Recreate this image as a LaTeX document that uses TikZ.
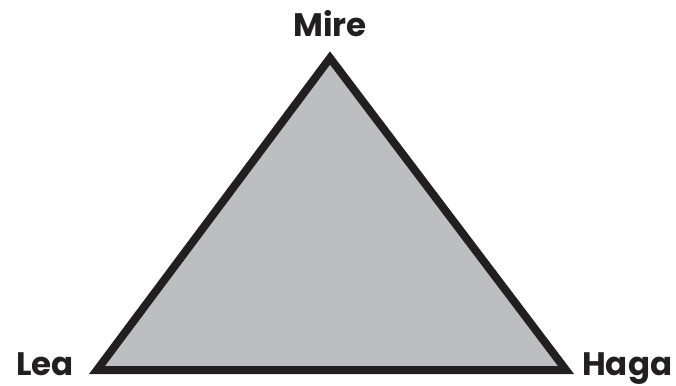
\documentclass[tikz,border=0pt]{standalone}
\usepackage{fontspec}
\setmainfont{Poppins}
\usepackage{tikz}
\usetikzlibrary{positioning}
\definecolor{inkdark}{HTML}{231F20}
\definecolor{trifill}{HTML}{BCBEC0}

\begin{document}
\begin{tikzpicture}[x=1pt, y=-1pt,
    corner/.style={font=\bfseries\fontsize{32.5}{34}\selectfont, text=inkdark, inner sep=0pt}
]
\useasboundingbox (0,0) rectangle (676,385);
\coordinate (apex) at (330,58);
\coordinate (left) at (97,370);
\coordinate (right) at (566,370);

\filldraw[draw=inkdark, fill=trifill, line width=8pt, miter limit=10] (apex) -- (left) -- (right) -- cycle;

\node[corner, anchor=base] (mire) at (330,37) {Mire};
\node[corner, anchor=base west] (lea) at (16,375) {Lea};
\node[corner, anchor=base west] (haga) at (582,375) {Haga};
\end{tikzpicture}
\end{document}
